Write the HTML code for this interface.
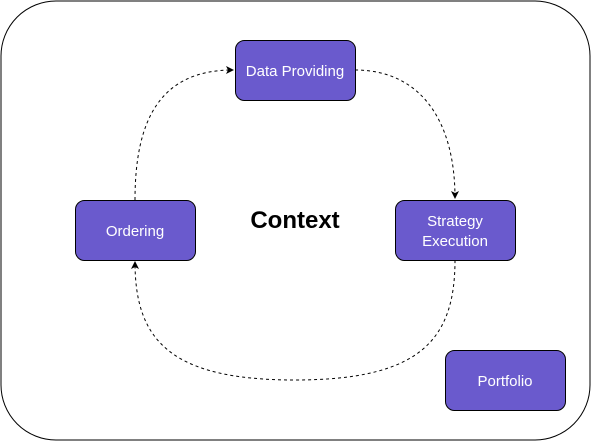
<!DOCTYPE html>
<html><head><style>
body{margin:0;background:#fff}
</style></head><body>
<svg width="591" height="441" xmlns="http://www.w3.org/2000/svg" font-family="Liberation Sans, sans-serif">
<defs><marker id="a" markerWidth="8" markerHeight="8" refX="7" refY="4" orient="auto" markerUnits="userSpaceOnUse"><path d="M0,0 L8,4 L0,8 L2,4 Z" fill="#000"/></marker></defs>
<rect x="1" y="1" width="589" height="439" rx="55" fill="#fff" stroke="#000" stroke-width="1"/>
<g fill="none" stroke="#000" stroke-dasharray="3,3" stroke-width="1">
<path d="M355,70 C420,70 455,120 455,198" marker-end="url(#a)"/>
<path d="M135,200 C135,120 160,70 233,70" marker-end="url(#a)"/>
<path d="M455,260 C455,340 420,380 295,380 C170,380 135,340 135,262" marker-end="url(#a)"/>
</g>
<g fill="#6a5acd" stroke="#000" stroke-width="1">
<rect x="235.5" y="40.5" width="120" height="60" rx="9"/>
<rect x="75.5" y="200.5" width="120" height="60" rx="9"/>
<rect x="395.5" y="200.5" width="120" height="60" rx="9"/>
<rect x="445.5" y="350.5" width="120" height="60" rx="9"/>
</g>
<g fill="#fff" font-size="15" text-anchor="middle">
<text x="295" y="76">Data Providing</text>
<text x="135" y="236">Ordering</text>
<text x="455" y="226">Strategy</text>
<text x="455" y="246">Execution</text>
<text x="505" y="386">Portfolio</text>
</g>
<text x="295" y="228" font-size="24" font-weight="bold" text-anchor="middle">Context</text>
</svg>
</body></html>
